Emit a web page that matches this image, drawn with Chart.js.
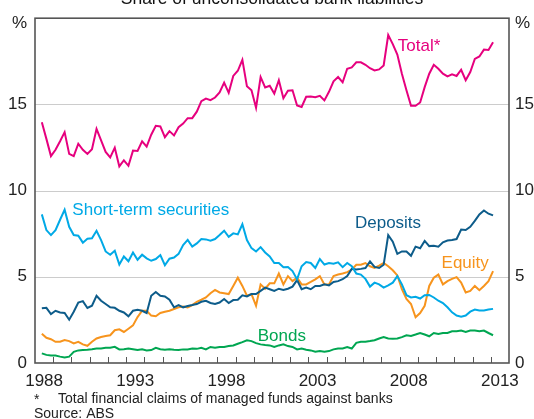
<!DOCTYPE html>
<html>
<head>
<meta charset="utf-8">
<script src="https://cdn.jsdelivr.net/npm/chart.js@4.4.1/dist/chart.umd.min.js"></script>
<style>
  body { margin: 0; background: #fff; }
  canvas { display: block; }
</style>
</head>
<body>
<canvas id="chart" width="534" height="419"></canvas>
<script>
// quarterly, Jun 1988 to Mar 2013, plotted mid-quarter
const firstYear = 1988, firstQuarter = 2, quarterCount = 100;
const quarters = [];
for (let i = 0; i < quarterCount; i++) {
  const q = firstQuarter - 1 + i;
  quarters.push(firstYear + Math.floor(q / 4) + (q % 4) * 0.25 + 0.125);
}

const total = [13.97, 13.0, 12.0, 12.37, 12.86, 13.39, 12.13, 12.0, 12.72, 12.37,
  12.13, 12.4, 13.58, 12.91, 12.24, 11.93, 12.49, 11.4, 11.76, 11.44,
  12.32, 12.3, 12.86, 12.55, 13.24, 13.76, 13.72, 13.1, 13.45, 13.2,
  13.68, 13.89, 14.2, 14.2, 14.58, 15.19, 15.34, 15.25, 15.4, 15.69,
  16.26, 15.67, 16.65, 16.95, 17.59, 16.05, 15.82, 14.81, 16.59, 15.98,
  16.08, 15.63, 16.4, 15.36, 15.79, 15.82, 14.94, 14.85, 15.44, 15.46,
  15.42, 15.5, 15.23, 15.73, 16.34, 16.59, 16.28, 17.07, 17.15, 17.44,
  17.44, 17.3, 17.1, 16.97, 17.03, 17.26, 19.02, 18.5, 17.89, 16.78,
  15.82, 14.92, 14.92, 15.11, 16.0, 16.78, 17.3, 17.07, 16.78, 16.63,
  16.74, 16.65, 17.01, 16.4, 16.88, 17.64, 17.78, 18.18, 18.16, 18.6];

const shortTerm = [8.62, 7.71, 7.42, 7.71, 8.31, 8.89, 7.9, 7.42, 7.38, 6.98,
  7.21, 7.23, 7.67, 7.13, 6.47, 6.28, 6.51, 5.71, 6.18, 5.9,
  6.41, 5.99, 6.28, 6.07, 5.93, 6.03, 6.26, 5.67, 6.05, 6.12,
  6.33, 6.84, 7.14, 6.75, 6.94, 7.19, 7.17, 7.1, 7.19, 7.42,
  7.67, 7.32, 7.52, 7.46, 8.05, 7.13, 6.66, 6.47, 6.72, 6.41,
  6.18, 5.8, 5.8, 5.55, 5.57, 5.33, 4.85, 5.61, 5.86, 5.8,
  5.51, 6.03, 5.71, 5.8, 5.76, 5.84, 5.56, 5.8, 5.61, 5.19,
  5.13, 4.88, 4.43, 4.66, 4.56, 4.37, 4.5, 4.66, 5.04, 4.56,
  3.93, 3.8, 3.84, 3.74, 3.93, 3.95, 3.8, 3.61, 3.48, 3.23,
  2.94, 2.75, 2.69, 2.75, 2.98, 3.1, 3.04, 3.04, 3.1, 3.14];

const deposits = [3.17, 3.2, 2.84, 3.03, 2.93, 2.9, 2.51, 2.97, 3.51, 3.59,
  3.19, 3.32, 3.9, 3.61, 3.42, 3.23, 3.2, 3.03, 2.93, 2.71,
  3.03, 3.09, 3.03, 2.9, 3.9, 4.12, 3.9, 3.86, 3.67, 3.23,
  3.36, 3.23, 3.31, 3.36, 3.42, 3.55, 3.61, 3.48, 3.42, 3.51,
  3.71, 3.48, 3.65, 3.67, 3.93, 3.86, 4.0, 4.0, 4.18, 4.37,
  4.28, 4.18, 4.31, 4.24, 4.31, 4.43, 4.81, 4.28, 4.37, 4.28,
  4.47, 4.47, 4.56, 4.5, 4.7, 4.75, 4.86, 5.04, 5.46, 5.42,
  5.46, 5.51, 5.89, 5.57, 5.51, 5.7, 7.42, 7.04, 6.33, 6.47,
  6.47, 6.22, 6.75, 6.66, 7.08, 6.78, 6.8, 6.75, 7.0, 7.1,
  7.13, 7.19, 7.74, 7.71, 7.9, 8.24, 8.62, 8.85, 8.66, 8.56];

const equity = [1.7, 1.46, 1.38, 1.23, 1.23, 1.33, 1.27, 1.14, 1.23, 1.08,
  1.0, 1.23, 1.42, 1.51, 1.57, 1.61, 1.9, 1.95, 1.8, 1.99,
  2.18, 2.66, 3.03, 3.03, 2.75, 2.71, 2.9, 2.97, 3.03, 3.13,
  3.23, 3.27, 3.22, 3.36, 3.55, 3.67, 3.8, 4.05, 4.24, 4.09,
  4.05, 4.0, 4.47, 4.95, 4.47, 3.9, 4.0, 3.32, 4.56, 4.31,
  4.62, 4.62, 5.19, 4.56, 5.04, 4.75, 4.95, 4.56, 4.56, 4.7,
  4.85, 5.04, 4.56, 4.56, 5.04, 5.13, 5.19, 5.27, 5.42, 5.7,
  5.7, 5.8, 5.61, 5.51, 5.65, 5.8, 5.61, 5.38, 5.08, 4.28,
  3.71, 3.42, 2.65, 2.9, 3.32, 4.47, 4.95, 5.13, 4.56, 4.75,
  4.88, 4.98, 4.66, 4.09, 4.18, 4.47, 4.22, 4.47, 4.75, 5.33];

const bonds = [0.56, 0.47, 0.43, 0.43, 0.37, 0.32, 0.37, 0.65, 0.73, 0.75,
  0.77, 0.8, 0.84, 0.84, 0.88, 0.88, 0.94, 0.79, 0.8, 0.84,
  0.8, 0.75, 0.79, 0.73, 0.75, 0.88, 0.8, 0.77, 0.8, 0.77,
  0.75, 0.79, 0.79, 0.84, 0.82, 0.88, 0.79, 0.93, 0.88, 0.93,
  0.93, 0.98, 1.02, 1.12, 1.21, 1.32, 1.27, 1.15, 1.08, 1.04,
  1.02, 0.93, 1.02, 1.08, 0.98, 0.93, 0.79, 0.84, 0.77, 0.73,
  0.65, 0.69, 0.65, 0.69, 0.79, 0.84, 0.84, 0.93, 0.84, 1.17,
  1.23, 1.23, 1.27, 1.32, 1.42, 1.5, 1.42, 1.4, 1.42, 1.5,
  1.61, 1.57, 1.65, 1.74, 1.65, 1.55, 1.74, 1.68, 1.74, 1.74,
  1.84, 1.84, 1.88, 1.8, 1.88, 1.88, 1.84, 1.88, 1.74, 1.61];

const yearLabels = [1988, 1993, 1998, 2003, 2008, 2013];
const yTicks = [0, 5, 10, 15, 20];
const gridValues = [5, 10, 15];

const colors = {
  total: '#e6007e',
  shortTerm: '#00a9e6',
  deposits: '#0d5c8a',
  equity: '#f7941d',
  bonds: '#00a651'
};

// text labels placed in data units (year, %)
const seriesLabels = [
  { text: 'Total*', x: 2007.9, y: 18.1, color: colors.total },
  { text: 'Short-term securities', x: 1990.05, y: 8.58, color: colors.shortTerm },
  { text: 'Deposits', x: 2005.55, y: 7.84, color: colors.deposits },
  { text: 'Equity', x: 2010.3, y: 5.49, color: colors.equity },
  { text: 'Bonds', x: 2000.22, y: 1.29, color: colors.bonds }
];

const FONT = "'Liberation Sans', Arial, sans-serif";

function series(label, values, color) {
  return {
    label: label,
    data: values.map((v, i) => ({ x: quarters[i], y: v })),
    borderColor: color,
    borderWidth: 2,
    pointRadius: 0,
    tension: 0,
    fill: false
  };
}

const decorations = {
  id: 'decorations',
  beforeDatasetsDraw(chart) {
    const ctx = chart.ctx;
    const area = chart.chartArea;
    const ys = chart.scales.y;
    ctx.save();
    ctx.strokeStyle = '#cccccc';
    ctx.lineWidth = 1;
    gridValues.forEach(v => {
      const py = Math.round(ys.getPixelForValue(v)) + 0.5;
      ctx.beginPath();
      ctx.moveTo(area.left, py);
      ctx.lineTo(area.right, py);
      ctx.stroke();
    });
    ctx.restore();
  },
  afterDraw(chart) {
    const ctx = chart.ctx;
    const area = chart.chartArea;
    const xs = chart.scales.x;
    const ys = chart.scales.y;
    ctx.save();

    // year tick marks, pointing into the plot
    ctx.strokeStyle = '#555';
    ctx.lineWidth = 1;
    for (let yr = 1989; yr < 2014; yr++) {
      const px = Math.round(xs.getPixelForValue(yr)) + 0.5;
      ctx.beginPath();
      ctx.moveTo(px, area.bottom);
      ctx.lineTo(px, area.bottom - 6);
      ctx.stroke();
    }

    // frame
    ctx.strokeStyle = '#555';
    ctx.lineWidth = 1.6;
    ctx.strokeRect(area.left, area.top, area.right - area.left, area.bottom - area.top);

    // series names
    ctx.font = '17px ' + FONT;
    ctx.textAlign = 'left';
    ctx.textBaseline = 'alphabetic';
    seriesLabels.forEach(l => {
      ctx.fillStyle = l.color;
      ctx.fillText(l.text, xs.getPixelForValue(l.x), ys.getPixelForValue(l.y));
    });

    // % units
    ctx.fillStyle = '#222';
    ctx.font = '17px ' + FONT;
    ctx.textBaseline = 'middle';
    ctx.textAlign = 'right';
    ctx.fillText('%', area.left - 8, 23);
    ctx.textAlign = 'left';
    ctx.fillText('%', area.right + 6, 23);

    // title, cut off at the top edge
    ctx.fillStyle = '#111';
    ctx.font = '17.5px ' + FONT;
    ctx.textAlign = 'center';
    ctx.textBaseline = 'alphabetic';
    ctx.fillText('Share of unconsolidated bank liabilities', (area.left + area.right) / 2, 3.5);

    // notes
    ctx.font = '14px ' + FONT;
    ctx.textAlign = 'left';
    ctx.fillStyle = '#222';
    ctx.fillText('*', 34, 404);
    ctx.fillText('Total financial claims of managed funds against banks', 58, 403);
    ctx.fillText('Source: ABS', 34, 418);
    ctx.restore();
  }
};

new Chart(document.getElementById('chart'), {
  type: 'line',
  data: {
    datasets: [
      series('Total*', total, colors.total),
      series('Short-term securities', shortTerm, colors.shortTerm),
      series('Deposits', deposits, colors.deposits),
      series('Equity', equity, colors.equity),
      series('Bonds', bonds, colors.bonds)
    ]
  },
  plugins: [decorations],
  options: {
    responsive: false,
    animation: false,
    layout: { padding: { top: 13, left: 0, right: 0, bottom: 0 } },
    plugins: {
      legend: { display: false },
      tooltip: { enabled: false },
      title: { display: false }
    },
    scales: {
      x: {
        type: 'linear',
        min: 1988,
        max: 2014,
        afterBuildTicks: axis => { axis.ticks = yearLabels.map(y => ({ value: y + 0.5 })); },
        afterFit: axis => { axis.height = 56; },
        grid: { display: false, drawTicks: false },
        border: { display: false },
        ticks: {
          callback: v => Math.floor(v),
          color: '#222',
          font: { size: 17, family: FONT },
          padding: 8,
          maxRotation: 0,
          autoSkip: false
        }
      },
      y: {
        position: 'left',
        min: 0,
        max: 20,
        afterBuildTicks: axis => { axis.ticks = yTicks.map(v => ({ value: v })); },
        afterFit: axis => { axis.width = 35; },
        grid: { display: false, drawTicks: false },
        border: { display: false },
        ticks: {
          callback: v => v === 20 ? '' : v,
          color: '#222',
          font: { size: 17, family: FONT },
          padding: 8
        }
      },
      y2: {
        position: 'right',
        min: 0,
        max: 20,
        afterBuildTicks: axis => { axis.ticks = yTicks.map(v => ({ value: v })); },
        afterFit: axis => { axis.width = 25; },
        grid: { display: false, drawTicks: false },
        border: { display: false },
        ticks: {
          callback: v => v === 20 ? '' : v,
          color: '#222',
          font: { size: 17, family: FONT },
          padding: 6
        }
      }
    }
  }
});
</script>
</body>
</html>
